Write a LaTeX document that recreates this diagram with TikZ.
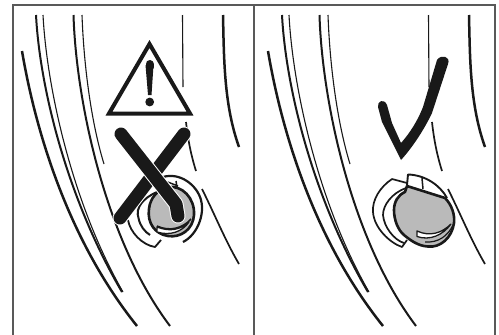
\documentclass[tikz,border=0pt]{standalone}
\begin{document}
\begin{tikzpicture}[x=1pt,y=-1pt,line cap=butt,
  frameline/.style={draw=black!65,line width=1.6pt},
  thick curve/.style={draw=black!90,line width=2.5pt},
  mid curve/.style={draw=black!90,line width=1.7pt},
  thin curve/.style={draw=black!90,line width=1.1pt},
  shell/.style={draw=black!90,line width=1.5pt,line join=round},
  grey body/.style={fill=black!27,draw=black!90,line width=2.6pt,line join=round},
  mark arm/.style={draw=black!90,line width=13pt,line cap=round,line join=round},
  mark halo/.style={draw=white,line width=15pt,line cap=round,line join=round}]
\useasboundingbox (0,0) rectangle (499,335);
\fill[white] (0,0) rectangle (499,335);
% frame
\draw[frameline] (13,335) -- (13,5) -- (495,5) -- (495,335);
\draw[frameline] (254,5) -- (254,335);
% curves, repeated per panel
\foreach \dx in {0,246}{
\begin{scope}[xshift=\dx pt]
\draw[thick curve] (22,51) .. controls (32,110) and (60,230) .. (137,326);
\draw[mid curve,line width=2pt] (36,15) .. controls (40,90) and (68,200) .. (122,292);
\draw[thin curve] (43,15) .. controls (47,90) and (73,205) .. (123,292);
\draw[mid curve,line width=2pt] (73.5,15) .. controls (76,100) and (105,240) .. (170,326);
\draw[thin curve] (82,15) .. controls (84,70) and (92,125) .. (104,164);
\draw[thick curve] (223,15) .. controls (224,60) and (224,105) .. (239,147);
\draw[thin curve] (182.5,15) -- (183,87);
\draw[mid curve] (186,122) .. controls (188,140) and (191,155) .. (196,171);
\draw[mid curve] (202,189) .. controls (215,215) and (225,240) .. (239,264);
\end{scope}}
% warning triangle
\draw[black!90,line width=4pt,line join=miter] (149.5,44) -- (190,113.5) -- (109,113.5) -- cycle;
\draw[black!90,line width=8pt,line cap=round] (149.5,64) -- (149.5,67);
\fill[black!90] (145.5,65) -- (153.5,65) -- (151.5,95) -- (148,95) -- cycle;
\fill[black!90] (149.7,102) circle (4.4);
% left device
\draw[shell,line width=1.8pt] (128,220) .. controls (130,232) and (142,245) .. (155,247) -- (161,240);
\draw[shell,line width=2pt] (157,192) .. controls (143,198) and (135,208) .. (138.5,218) .. controls (140,226) and (145,232) .. (150,235);
\draw[shell,line width=2.2pt] (163,177) .. controls (180,172) and (197,185) .. (201,200) .. controls (205,215) and (197,235) .. (183,242);
\draw[grey body] (168,187) .. controls (182,185) and (195,198) .. (194,215) .. controls (193,230) and (180,238) .. (168,236) .. controls (155,234) and (147,223) .. (149,209) .. controls (150,198) and (158,189) .. (168,187) -- cycle;
\draw[shell] (165,181) -- (178,186) (176,181) -- (177,187);
\draw[black!90,line width=1.5pt,line join=round] (157,226) .. controls (170,232) and (183,228) .. (191,219);
\draw[black!90,fill=white,line width=1.3pt,line join=round] (157,227) .. controls (170,232) and (180,230) .. (189,222) .. controls (182,232) and (170,236) .. (157,232) -- cycle;
% X mark
\draw[mark halo] (184,134) -- (120,218);
\draw[mark arm] (184,134) -- (120,218);
\draw[mark halo] (121,134) -- (176,204) -- (178,216);
\draw[mark arm] (121,134) -- (176,204) -- (178,216);
% right device
\draw[shell,line width=1.7pt] (407,183) -- (392,179) .. controls (380,187) and (372,200) .. (373,212) .. controls (374,228) and (390,243) .. (402,247) -- (407,240);
\draw[shell,line width=1.7pt] (406,188) .. controls (392,193) and (383,205) .. (383,215) .. controls (384,227) and (394,240) .. (404,243);
\draw[shell,line width=1.9pt] (407,185) -- (408,174.5) .. controls (425,175) and (440,185) .. (447,198);
\draw[shell] (422,178) -- (423,189);
\draw[grey body] (407,186) -- (445,198) .. controls (452,205) and (455,215) .. (454,223) .. controls (452,238) and (440,248) .. (428,246.5) .. controls (418,246) and (410,240) .. (404,235) .. controls (398,230) and (394,220) .. (394,210) .. controls (394,202) and (398,195) .. (405,192) -- cycle;
\draw[black!90,fill=white,line width=1.3pt,line join=round] (417,231) .. controls (430,237) and (442,233) .. (451,224) .. controls (443,235) and (430,241) .. (417,236.5) -- cycle;
\draw[black!90,line width=1.2pt] (425,242) .. controls (438,243) and (448,236) .. (453,225);
% check mark
\path[fill=black!90,line join=round]
  (378,107) .. controls (377,101) and (384,98) .. (387,105) -- (392,123) -- (401,143) .. controls (410,133) and (418,120) .. (423,107) -- (437,60) .. controls (441,54) and (451,56) .. (448,64) -- (432,113) .. controls (424,130) and (412,148) .. (401,160) -- (382,122) -- cycle;
\end{tikzpicture}
\end{document}
